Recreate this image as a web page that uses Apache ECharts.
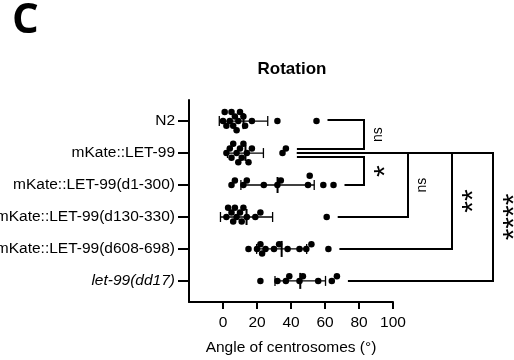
<!DOCTYPE html>
<html>
<head>
<meta charset="utf-8">
<script src="https://cdn.jsdelivr.net/npm/echarts@6/dist/echarts.min.js"></script>
<style>
  html, body { margin: 0; padding: 0; background: #fff; }
  #chart { width: 514px; height: 360px; }
</style>
</head>
<body>
<div id="chart"></div>
<script>
// groups, top to bottom
const categories = [
  'N2',
  'mKate::LET-99',
  'mKate::LET-99(d1-300)',
  'mKate::LET-99(d130-330)',
  'mKate::LET-99(d608-698)',
  'let-99(dd17)'
]

// angle of centrosomes (deg), one value per embryo
const n2 = [0, 1, 2, 4, 5, 6, 7, 8, 9, 10, 12, 13, 17, 32, 55]
const let99 = [2, 4, 5, 6, 8, 9, 10, 11, 12, 14, 15, 17, 35, 37]
const d1to300 = [5, 7, 12, 14, 24, 32, 34, 50, 51, 59, 65]
const d130to330 = [2, 3, 5, 6, 7, 8, 10, 11, 12, 14, 19, 22, 61]
const d608to698 = [15, 20, 22, 23, 25, 30, 33, 38, 45, 49, 52, 62]
const dd17 = [22, 32, 37, 39, 45, 47, 56, 64, 67]

const xTicks = [0, 20, 40, 60, 80, 100]

// [group a, group b, label]
const comparisons = [
  [0, 1, 'ns'],
  [1, 2, '*'],
  [1, 3, 'ns'],
  [1, 4, '**'],
  [1, 5, '****']
]

const groups = [n2, let99, d1to300, d130to330, d608to698, dd17]
const font = '"Liberation Sans", Arial, sans-serif'

const mean = (a) => a.reduce((s, v) => s + v, 0) / a.length
const sd = (a) => {
  const m = mean(a)
  return Math.sqrt(a.reduce((s, v) => s + (v - m) * (v - m), 0) / (a.length - 1))
}

const chart = echarts.init(document.getElementById('chart'), null, { renderer: 'canvas' })

const axisLine = { onZero: false, lineStyle: { color: '#000', width: 2 } }

chart.setOption({
  animation: false,
  backgroundColor: '#fff',
  grid: { left: 189, right: 121, top: 100, bottom: 58, containLabel: false, outerBoundsMode: 'none' },
  xAxis: {
    type: 'value',
    min: -20,
    max: 100,
    interval: 20,
    name: 'Angle of centrosomes (°)',
    nameLocation: 'middle',
    nameGap: 38,
    nameTextStyle: { fontFamily: font, fontSize: 15.5, color: '#000' },
    axisLine: axisLine,
    axisTick: { customValues: xTicks, length: 7, lineStyle: { color: '#000', width: 2 } },
    axisLabel: { customValues: xTicks, margin: 13, fontFamily: font, fontSize: 15.5, color: '#000' },
    splitLine: { show: false }
  },
  yAxis: {
    type: 'value',
    inverse: true,
    min: -0.66,
    max: 5.66,
    axisLine: axisLine,
    axisTick: { customValues: [0, 1, 2, 3, 4, 5], length: 11, lineStyle: { color: '#000', width: 2 } },
    axisLabel: {
      customValues: [0, 1, 2, 3, 4, 5],
      margin: 14,
      fontFamily: font,
      fontSize: 15.5,
      color: '#000',
      formatter: (v) => v === 5 ? '{it|' + categories[v] + '}' : categories[v],
      rich: { it: { fontStyle: 'italic', fontFamily: font, fontSize: 15.5, color: '#000' } }
    },
    splitLine: { show: false }
  },
  series: []
})

const x0 = chart.convertToPixel({ xAxisIndex: 0 }, 0)
const pxPerUnit = (chart.convertToPixel({ xAxisIndex: 0 }, 100) - x0) / 100

// simple beeswarm: push overlapping dots up/down in pixel steps
function swarm(vals) {
  const order = vals.map((v, i) => i).sort((a, b) => vals[a] - vals[b])
  const placed = []
  const offs = new Array(vals.length).fill(0)
  const minDist = 5.2
  const step = 4.6
  order.forEach((i) => {
    const x = vals[i] * pxPerUnit
    for (const k of [0, -1, 1, -2, 2, -3, 3]) {
      const y = k * step
      if (placed.every((p) => (p.x - x) ** 2 + (p.y - y) ** 2 >= minDist * minDist)) {
        placed.push({ x, y })
        offs[i] = y
        break
      }
    }
  })
  return offs
}

const dots = []
groups.forEach((g, row) => {
  const offs = swarm(g)
  g.forEach((v, i) => dots.push({ value: [v, row], symbolOffset: [0, offs[i]] }))
})

const bars = groups.map((g, row) => [mean(g), sd(g), row])

chart.setOption({
  series: [
    {
      type: 'scatter',
      symbol: 'circle',
      symbolSize: 6.5,
      itemStyle: { color: '#000', opacity: 1 },
      data: dots,
      z: 2
    },
    {
      type: 'custom',
      z: 3,
      data: bars,
      renderItem: (params, api) => {
        const m = api.value(0)
        const s = api.value(1)
        const r = api.value(2)
        const lo = api.coord([m - s, r])
        const hi = api.coord([m + s, r])
        const mid = api.coord([m, r])
        const st = { stroke: '#000', lineWidth: 1.3 }
        return {
          type: 'group',
          children: [
            { type: 'line', shape: { x1: lo[0], y1: lo[1], x2: hi[0], y2: hi[1] }, style: st },
            { type: 'line', shape: { x1: lo[0], y1: lo[1] - 5, x2: lo[0], y2: lo[1] + 5 }, style: st },
            { type: 'line', shape: { x1: hi[0], y1: hi[1] - 5, x2: hi[0], y2: hi[1] + 5 }, style: st },
            { type: 'line', shape: { x1: mid[0], y1: mid[1] - 8, x2: mid[0], y2: mid[1] + 8 }, style: { stroke: '#000', lineWidth: 2 } }
          ]
        }
      }
    }
  ]
})

// significance brackets
const xRight = chart.convertToPixel({ xAxisIndex: 0 }, 100)
const bracketX = [xRight - 29, xRight - 29, xRight + 15, xRight + 59, xRight + 100]
const rowY = (r) => chart.convertToPixel({ yAxisIndex: 0 }, r)
const endX = (r) => chart.convertToPixel({ xAxisIndex: 0 }, Math.max(...groups[r])) + 11

const graphic = [
  {
    type: 'text',
    left: 12,
    top: 0,
    style: { text: 'C', fontFamily: '"Open Sans", sans-serif', fontWeight: 'bold', fontSize: 42, fill: '#000' }
  },
  {
    type: 'text',
    x: 292,
    y: 69,
    style: { text: 'Rotation', fontFamily: font, fontSize: 17, fontWeight: 'bold', fill: '#000', align: 'center', verticalAlign: 'middle' }
  }
]

comparisons.forEach(([a, b, label], i) => {
  let ya = rowY(a)
  let yb = rowY(b)
  if (i === 0) { ya -= 1; yb -= 4 }
  if (i === 1) { ya += 4 }
  const bx = bracketX[i]
  graphic.push({
    type: 'polyline',
    shape: { points: [[endX(a), ya], [bx, ya], [bx, yb], [endX(b), yb]] },
    style: { stroke: '#000', lineWidth: 2, fill: null }
  })
  const star = label.indexOf('*') >= 0
  graphic.push({
    type: 'text',
    x: bx + (star ? 21.5 : 14),
    y: (ya + yb) / 2,
    rotation: Math.PI / 2,
    style: {
      text: label,
      fontFamily: font,
      fontSize: star ? 30 : 14,
      fill: '#000',
      align: 'center',
      verticalAlign: 'middle'
    }
  })
})

chart.setOption({ graphic: graphic })

window.addEventListener('resize', () => chart.resize())
</script>
</body>
</html>
